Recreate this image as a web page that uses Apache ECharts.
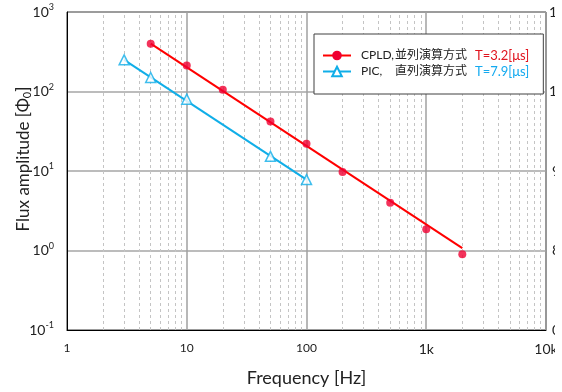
<!DOCTYPE html>
<html>
<head>
<meta charset="utf-8">
<script src="https://cdn.jsdelivr.net/npm/echarts@6/dist/echarts.min.js"></script>
<style>
html, body { margin: 0; padding: 0; background: #fff; }
#main { width: 562px; height: 392px; }
</style>
</head>
<body>
<div id="main"></div>
<script>
// measured points
const cpldFreq = [5, 10, 20, 50, 100, 200, 500, 1000, 2000];
const cpldAmp = [400, 213, 105, 42, 22, 9.7, 4.0, 1.85, 0.9];
const picFreq = [3, 5, 10, 50, 100];
const picAmp = [250, 150, 80, 15.3, 7.8];

// fitted lines (end points)
const cpldFitFreq = [5, 2000];
const cpldFitAmp = [400, 1.07];
const picFitFreq = [3, 100];
const picFitAmp = [250, 7.8];

// legend text
const seriesNames = ['CPLD', 'PIC'];
const namePrefix = ['CPLD,', 'PIC,'];
const methodText = ['並列演算方式', '直列演算方式'];
const timeText = ['T=3.2[μs]', 'T=7.9[μs]'];

// tick labels
const xTickLabels = { 1: '1', 10: '10', 100: '100', 1000: '1k', 10000: '10k' };
const rightTickLabels = { 3: '1', 2: '1', 1: '9', 0: '8', '-1': '0' };

const red = '#ff0000';
const redDot = '#f00032';
const blue = '#10aee8';
const font = 'Lato, "Noto Sans CJK JP", sans-serif';

const zip = (xs, ys) => xs.map((x, i) => [x, ys[i]]);

// minor vertical grid: 2..9 in every decade
const minorX = [];
for (let d = 1; d < 10000; d *= 10) {
    for (let k = 2; k <= 9; k++) minorX.push(d * k);
}

const chart = echarts.init(document.getElementById('main'));
const option = {
    animation: false,
    backgroundColor: '#fff',
    textStyle: { fontFamily: font },
    grid: {
        left: 67, top: 12, right: 16, bottom: 62,
        outerBoundsMode: 'none',
        containLabel: false,
        show: true, borderColor: '#000', borderWidth: 1, backgroundColor: 'transparent'
    },
    legend: {
        data: seriesNames,
        orient: 'vertical',
        left: 314,
        top: 34,
        padding: [15, 14, 16, 8],
        itemGap: 3,
        itemWidth: 28,
        itemHeight: 12,
        backgroundColor: '#fff',
        borderColor: '#404040',
        borderWidth: 1,
        formatter: function (name) {
            const i = seriesNames.indexOf(name);
            return '{a|' + namePrefix[i] + '}{b|' + methodText[i] + '}{' + (i ? 'u' : 't') + '|' + timeText[i] + '}';
        },
        textStyle: {
            fontFamily: font,
            fontSize: 12,
            color: '#222',
            rich: {
                a: { width: 34, padding: [0, 0, 0, 5], fontSize: 12, color: '#222' },
                b: { width: 80, fontSize: 12, color: '#222' },
                t: { fontSize: 13, color: '#e0141e' },
                u: { fontSize: 13, color: '#14aaf0' }
            }
        }
    },
    xAxis: {
        type: 'log',
        logBase: 10,
        min: 1,
        max: 10000,
        name: 'Frequency [Hz]',
        nameLocation: 'middle',
        nameGap: 39,
        nameTextStyle: { fontSize: 18, color: '#222', fontFamily: font },
        axisLine: { show: true, lineStyle: { color: '#000', width: 1 } },
        axisTick: { show: false },
        axisLabel: {
            margin: 12,
            formatter: function (v) {
                const s = xTickLabels[v];
                return v >= 1000 ? '{l|' + s + '}' : '{s|' + s + '}';
            },
            rich: {
                s: { fontSize: 12, color: '#222', fontFamily: font },
                l: { fontSize: 14, color: '#222', fontFamily: font }
            }
        },
        splitLine: { show: true, lineStyle: { color: '#a0a0a0', width: 1.5 } }
    },
    yAxis: [{
        type: 'log',
        logBase: 10,
        min: 0.1,
        max: 1000,
        name: 'Flux amplitude [Φ{sub|0}]',
        nameLocation: 'middle',
        nameGap: 34,
        nameMoveOverlap: false,
        nameTextStyle: {
            fontSize: 17, color: '#222', fontFamily: font,
            padding: [0, 0, 0, 24],
            rich: { sub: { fontSize: 11, color: '#222', verticalAlign: 'bottom', padding: [8, 0, 0, 0] } }
        },
        axisLine: { show: true, lineStyle: { color: '#000', width: 1 } },
        axisTick: { show: false },
        axisLabel: {
            margin: 13,
            formatter: function (v) {
                const e = Math.round(Math.log10(v));
                return '{b|10}{s|' + e + '}';
            },
            rich: {
                b: { fontSize: 14, color: '#222', fontFamily: font, lineHeight: 18 },
                s: { fontSize: 9, color: '#222', fontFamily: font, verticalAlign: 'top', lineHeight: 18, padding: [0, 0, 8, 0] }
            }
        },
        splitLine: { show: true, lineStyle: { color: '#a6a6a6', width: 1.5 } }
    }, {
        type: 'log',
        logBase: 10,
        min: 0.1,
        max: 1000,
        position: 'right',
        axisLine: { show: false },
        axisTick: { show: false },
        splitLine: { show: false },
        axisLabel: {
            margin: 3,
            formatter: function (v) {
                const e = Math.round(Math.log10(v));
                return e >= 2 ? '{a|' + rightTickLabels[e] + '}' : '{b|' + rightTickLabels[e] + '}';
            },
            rich: {
                a: { fontSize: 14, color: '#222', fontFamily: font },
                b: { fontSize: 14, color: '#222', fontFamily: font, padding: [0, 0, 0, 3] }
            }
        }
    }],
    series: [
        {
            name: 'CPLD',
            type: 'line',
            data: zip(cpldFitFreq, cpldFitAmp),
            showSymbol: false,
            symbol: 'circle',
            symbolSize: 8,
            itemStyle: { color: redDot },
            lineStyle: { color: red, width: 2 },
            z: 3
        },
        {
            name: 'PIC',
            type: 'line',
            data: zip(picFitFreq, picFitAmp),
            showSymbol: false,
            symbol: 'triangle',
            symbolSize: 9,
            itemStyle: { color: '#fff', borderColor: blue, borderWidth: 1.5 },
            lineStyle: { color: blue, width: 2 },
            z: 3
        },
        {
            name: 'CPLD points',
            type: 'scatter',
            data: zip(cpldFreq, cpldAmp),
            symbol: 'circle',
            symbolSize: 8,
            itemStyle: { color: redDot },
            z: 4,
            markLine: {
                silent: true,
                symbol: 'none',
                label: { show: false },
                lineStyle: { type: [3, 3], color: '#c4c4c4', width: 1 },
                data: minorX.map(v => ({ xAxis: v })),
                z: 1
            }
        },
        {
            name: 'PIC points',
            type: 'scatter',
            data: zip(picFreq, picAmp),
            symbol: 'triangle',
            symbolSize: 10,
            itemStyle: { color: '#fff', borderColor: blue, borderWidth: 1.5 },
            z: 4
        }
    ],
    graphic: [{
        type: 'rect',
        shape: { x: 555, y: 0, width: 7, height: 392 },
        style: { fill: '#fff' },
        z: 100
    }]
};
option && chart.setOption(option);
</script>
</body>
</html>
